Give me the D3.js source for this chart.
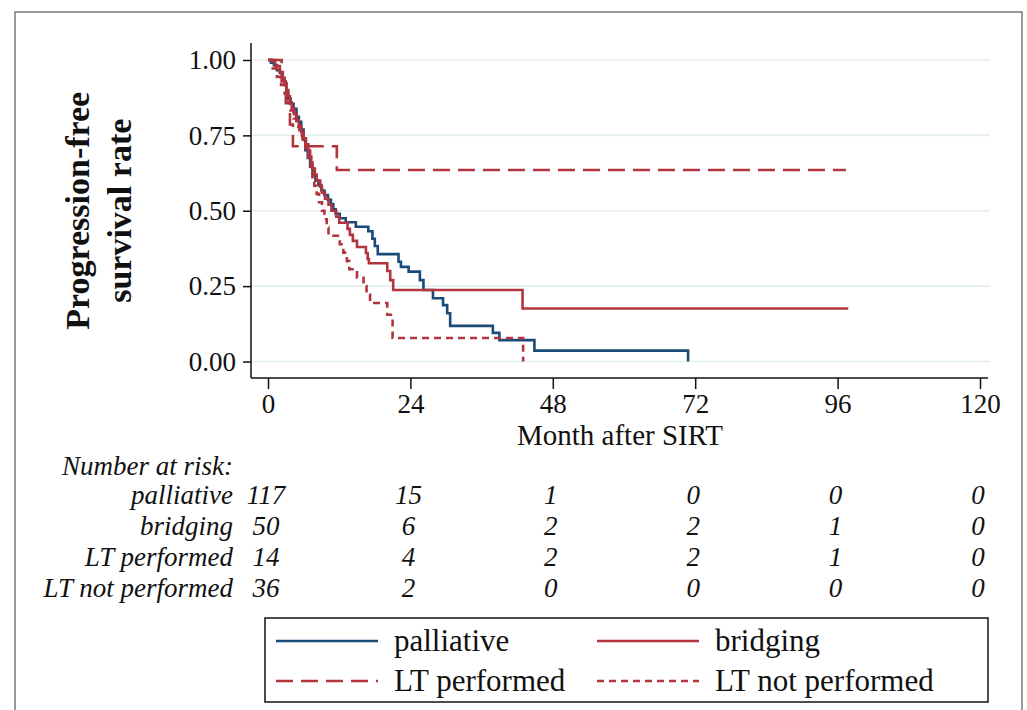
<!DOCTYPE html>
<html>
<head>
<meta charset="utf-8">
<script src="https://cdn.jsdelivr.net/npm/d3@7"></script>
<style>
  body { margin: 0; background: #fff; }
  svg { display: block; font-family: "Liberation Serif", "DejaVu Serif", serif; }
  .tick text { font-size: 27px; fill: #111; }
  .tick line { stroke: #111; stroke-width: 1.5; }
</style>
</head>
<body>
<svg id="chart" width="1027" height="710"></svg>
<script>
// Kaplan-Meier steps: [month, survival]
var palliative = [[0,1],[0.5,0.991],[1.0,0.983],[1.5,0.966],[2.0,0.957],[2.4,0.94],[2.8,0.923],[3.1,0.897],
  [3.4,0.872],[3.8,0.855],[4.3,0.838],[4.8,0.812],[5.2,0.795],[5.6,0.769],[6.0,0.735],[6.3,0.701],[6.7,0.675],
  [7.1,0.646],[7.5,0.617],[8.0,0.60],[8.5,0.585],[9.0,0.567],[9.5,0.552],[10.1,0.536],[10.6,0.522],[11.0,0.505],
  [11.4,0.49],[12.1,0.475],[13.1,0.462],[14.8,0.447],[16.9,0.432],[17.6,0.407],[18.0,0.383],[18.5,0.356],
  [22.0,0.331],[22.4,0.314],[23.7,0.298],[25.6,0.27],[26.2,0.237],[27.8,0.21],[29.5,0.187],[30.2,0.16],
  [30.7,0.118],[37.9,0.095],[39.0,0.071],[44.9,0.036],[70.8,0]];
var bridging = [[0,1],[1.2,0.98],[2.0,0.96],[2.5,0.94],[2.8,0.92],[3.1,0.90],[3.4,0.88],[3.7,0.86],[4.0,0.84],
  [4.4,0.82],[4.8,0.80],[5.2,0.78],[5.6,0.76],[6.0,0.74],[6.4,0.72],[6.8,0.70],[7.1,0.68],[7.3,0.66],[7.5,0.64],
  [7.9,0.62],[8.2,0.60],[8.8,0.58],[9.1,0.56],[9.6,0.54],[10.2,0.52],[10.7,0.50],[11.5,0.48],[12.0,0.46],
  [13.4,0.44],[13.8,0.42],[14.3,0.40],[15.0,0.38],[16.5,0.36],[16.8,0.34],[17.0,0.326],[20.1,0.30],[20.6,0.27],
  [21.1,0.237],[42.9,0.176],[97.8,0.176]];
var ltPerformed = [[0,1],[2.3,0.929],[3.0,0.857],[3.7,0.786],[4.2,0.714],[11.6,0.635],[97.4,0.635]];
var ltNotPerformed = [[0,1],[0.8,0.972],[1.5,0.944],[2.2,0.917],[2.8,0.889],[3.3,0.861],[3.8,0.833],[4.3,0.806],
  [4.8,0.778],[5.3,0.75],[5.8,0.722],[6.3,0.694],[6.8,0.667],[7.2,0.639],[7.5,0.611],[7.8,0.583],[8.2,0.556],
  [8.6,0.528],[9.1,0.5],[9.5,0.472],[9.9,0.444],[10.2,0.417],[12.1,0.389],[12.7,0.361],[13.3,0.333],[13.7,0.306],
  [15.0,0.278],[16.1,0.25],[16.6,0.222],[17.2,0.194],[20.1,0.155],[21.0,0.078],[43.0,0]];

var xTicks = [0, 24, 48, 72, 96, 120];
var yTicks = [0, 0.25, 0.5, 0.75, 1];

var groupNames = ["palliative", "bridging", "LT performed", "LT not performed"];
var atRisk = [
  [117, 15, 1, 0, 0, 0],
  [50, 6, 2, 2, 1, 0],
  [14, 4, 2, 2, 1, 0],
  [36, 2, 0, 0, 0, 0]
];

var navy = "#1a4b78", maroon = "#b2343c";
var series = [
  {name: "palliative", data: palliative, color: navy, dash: null},
  {name: "bridging", data: bridging, color: maroon, dash: null},
  {name: "LT performed", data: ltPerformed, color: maroon, dash: "17,8"},
  {name: "LT not performed", data: ltNotPerformed, color: maroon, dash: "7,5"}
];

var svg = d3.select("#chart");

// outer frame
svg.append("rect")
  .attr("x", 15).attr("y", 12).attr("width", 1007).attr("height", 720)
  .attr("fill", "none").attr("stroke", "#7a7a7a").attr("stroke-width", 1.5);

var x = d3.scaleLinear().domain([0, 120]).range([268, 980]);
var y = d3.scaleLinear().domain([0, 1]).range([361.5, 60]);

var axisX = 251, axisY = 378;

// gridlines
svg.append("g").selectAll("line")
  .data(yTicks)
  .enter().append("line")
  .attr("x1", axisX).attr("x2", 990)
  .attr("y1", function(d) { return y(d); })
  .attr("y2", function(d) { return y(d); })
  .attr("stroke", "#e2eef0").attr("stroke-width", 1.6);

// axes
var gy = svg.append("g")
  .attr("transform", "translate(" + axisX + ",0)")
  .call(d3.axisLeft(y).tickValues(yTicks).tickSize(8).tickPadding(7).tickFormat(d3.format(".2f")))
  .attr("font-family", null).attr("font-size", null);
gy.select(".domain").remove();

var gx = svg.append("g")
  .attr("transform", "translate(0," + axisY + ")")
  .call(d3.axisBottom(x).tickValues(xTicks).tickSize(11).tickPadding(5))
  .attr("font-family", null).attr("font-size", null);
gx.select(".domain").remove();

svg.append("line")
  .attr("x1", axisX).attr("x2", axisX).attr("y1", 43).attr("y2", axisY)
  .attr("stroke", "#111").attr("stroke-width", 1.5);
svg.append("line")
  .attr("x1", axisX).attr("x2", 988).attr("y1", axisY).attr("y2", axisY)
  .attr("stroke", "#111").attr("stroke-width", 1.5);

// axis titles
svg.append("text")
  .attr("x", (x(0) + x(120)) / 2 - 4).attr("y", 445)
  .attr("text-anchor", "middle")
  .style("font-size", "29px").style("fill", "#111")
  .text("Month after SIRT");

var ytitle = svg.append("text")
  .attr("transform", "translate(89," + ((y(0) + y(1)) / 2) + ") rotate(-90)")
  .attr("text-anchor", "middle")
  .style("font-size", "34px").style("font-weight", "bold").style("fill", "#111");
ytitle.append("tspan").attr("x", 0).attr("dy", 0).text("Progression-free");
ytitle.append("tspan").attr("x", 0).attr("dy", 42).text("survival rate");

// curves
var line = d3.line()
  .x(function(d) { return x(d[0]); })
  .y(function(d) { return y(d[1]); })
  .curve(d3.curveStepAfter);

svg.append("g").selectAll("path")
  .data(series)
  .enter().append("path")
  .attr("d", function(d) { return line(d.data); })
  .attr("fill", "none")
  .attr("stroke", function(d) { return d.color; })
  .attr("stroke-width", 2.6)
  .attr("stroke-dasharray", function(d) { return d.dash; });

// number at risk table
var tbl = svg.append("g").style("font-style", "italic").style("font-size", "27px").style("fill", "#111");
tbl.append("text")
  .attr("x", 233).attr("y", 475)
  .attr("text-anchor", "end")
  .text("Number at risk:");

var rowY = d3.scaleLinear().domain([0, 1]).range([504, 535]);

groupNames.forEach(function(name, i) {
  tbl.append("text")
    .attr("x", 233).attr("y", rowY(i))
    .attr("text-anchor", "end")
    .text(name);
  tbl.selectAll(".n" + i)
    .data(atRisk[i])
    .enter().append("text")
    .attr("class", "n" + i)
    .attr("x", function(d, j) { return x(xTicks[j]) - 2; })
    .attr("y", rowY(i))
    .attr("text-anchor", "middle")
    .text(function(d) { return d; });
});

// legend
var legend = svg.append("g");
legend.append("rect")
  .attr("x", 265).attr("y", 618).attr("width", 723).attr("height", 84)
  .attr("fill", "#fff").attr("stroke", "#111").attr("stroke-width", 1.5);

var legCols = [276, 597], legRows = [641, 681];
series.forEach(function(s, i) {
  var lx = legCols[i % 2], ly = legRows[Math.floor(i / 2)];
  legend.append("line")
    .attr("x1", lx).attr("x2", lx + 102).attr("y1", ly).attr("y2", ly)
    .attr("stroke", s.color).attr("stroke-width", 2.6)
    .attr("stroke-dasharray", s.dash);
  legend.append("text")
    .attr("x", lx + 118).attr("y", ly + 10)
    .style("font-size", "31px").style("fill", "#111")
    .text(s.name);
});
</script>
</body>
</html>
